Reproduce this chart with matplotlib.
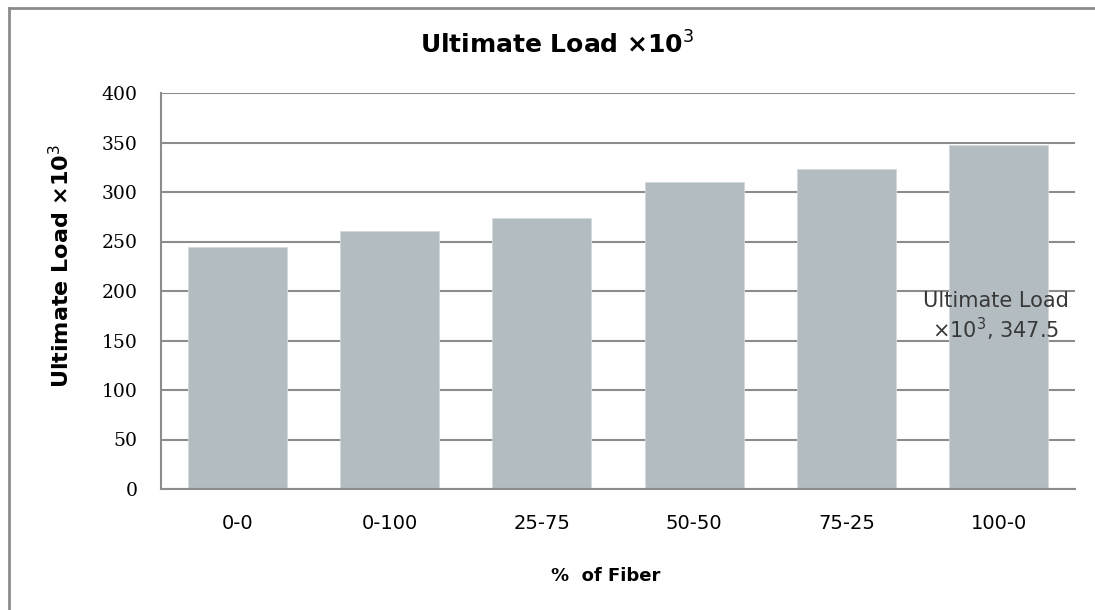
import numpy as np
import matplotlib.pyplot as plt
from matplotlib.lines import Line2D

# fibre mix and measured ultimate load (x10^3)
mixes = ['0-0', '0-100', '25-75', '50-50', '75-25', '100-0']
loads = [244, 261, 274, 310, 323, 347.5]
yticks = [0, 50, 100, 150, 200, 250, 300, 350, 400]

title_txt = 'Ultimate Load \u00d710$^3$'
bar_col = '#b2bcc1'
grid_col = '#8c8c8c'

W, H = 1095, 610
fig = plt.figure(figsize=(W / 100, H / 100), dpi=100)
ax = fig.add_axes([161 / W, 1 - 489 / H, 914 / W, 396 / H])

x = np.arange(len(mixes))
ax.bar(x, loads, width=0.65, color=bar_col, edgecolor='#d3dadc', linewidth=0.6, zorder=3)

ax.set_xlim(-0.5, len(mixes) - 0.5)
ax.set_ylim(0, 400)
ax.set_yticks(yticks)
ax.set_xticks(x)
ax.set_xticklabels(mixes, fontsize=14, family='DejaVu Sans Condensed')
ax.tick_params(axis='x', length=0, pad=18)
ax.tick_params(axis='y', length=0, pad=17, labelsize=13.5)
for lbl in ax.get_yticklabels():
    lbl.set_family('DejaVu Serif')

ax.yaxis.grid(True, color=grid_col, linewidth=1.5, zorder=0)
for s in ['top', 'right']:
    ax.spines[s].set_visible(False)
for s in ['left', 'bottom']:
    ax.spines[s].set_color(grid_col)
    ax.spines[s].set_linewidth(1.5)
    ax.spines[s].set_zorder(4)

# titles
fig.text(557 / W, 1 - 45 / H, title_txt, ha='center', va='center',
         fontsize=18, fontweight='bold', family='DejaVu Sans Condensed')
fig.text(606 / W, 1 - 576 / H, '%  of Fiber', ha='center', va='center',
         fontsize=13, fontweight='bold', family='DejaVu Sans Condensed')
ax.set_ylabel(title_txt, fontsize=16, fontweight='bold')
ax.yaxis.set_label_coords(-(161 - 73) / 914, 0.563)

# data label on the last bar
last = len(loads) - 1
ax.text(last - 0.02, 174, 'Ultimate Load\n\u00d710$^3$, ' + f'{loads[last]:g}',
        ha='center', va='center', multialignment='center', fontsize=15,
        color='#383838', linespacing=1.2, zorder=5)

# outer chart frame (top and left edges)
fig.add_artist(Line2D([9 / W, 1.01], [1 - 8 / H, 1 - 8 / H], transform=fig.transFigure,
                      color=grid_col, linewidth=2))
fig.add_artist(Line2D([9 / W, 9 / W], [1 - 8 / H, -0.01], transform=fig.transFigure,
                      color=grid_col, linewidth=2))

fig.savefig('out.png', dpi=100)
